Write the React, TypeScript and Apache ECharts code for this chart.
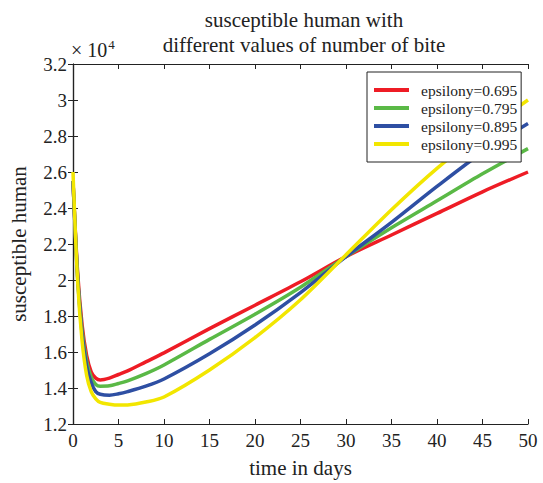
import React, { useEffect, useRef } from "react";
import * as echarts from "echarts";

const days = [0, 0.5, 1, 1.5, 2, 2.5, 3, 4, 5, 6, 8, 10, 15, 20, 25, 30, 35, 40, 45, 50];
const red = [25500, 20500, 17500, 15800, 14900, 14550, 14450, 14550, 14750, 14950, 15450, 15950, 17300, 18600, 19900, 21300, 22500, 23700, 24900, 26000];
const green = [25500, 20300, 17200, 15500, 14600, 14200, 14100, 14120, 14250, 14400, 14800, 15280, 16700, 18100, 19600, 21300, 22900, 24400, 25900, 27300];
const blue = [25500, 20200, 17000, 15200, 14300, 13800, 13650, 13600, 13680, 13800, 14100, 14500, 15900, 17500, 19300, 21300, 23200, 25200, 27100, 28700];
const yellow = [26000, 20000, 16600, 14700, 13800, 13400, 13200, 13100, 13050, 13060, 13220, 13500, 15000, 16800, 18900, 21400, 23900, 26200, 28200, 30000];
const seriesNames = ["epsilony=0.695", "epsilony=0.795", "epsilony=0.895", "epsilony=0.995"];
const colors = ["#ee1c25", "#5ab946", "#2e4fa3", "#f2e600"];

const FONT = "Liberation Serif";

export default function App() {
  const ref = useRef<HTMLDivElement>(null);
  useEffect(() => {
    const chart = echarts.init(ref.current!, null, { renderer: "svg" });
    const all = [red, green, blue, yellow];
    const axisCommon = {
      type: "value" as const,
      axisLine: { show: true, lineStyle: { color: "#222", width: 1.2 } },
      axisTick: { show: true, inside: true, length: 5, lineStyle: { color: "#222" } },
      splitLine: { show: false },
    };
    chart.setOption({
      animation: false,
      backgroundColor: "#fff",
      title: {
        text: "susceptible human with\ndifferent values of number of bite",
        left: 299,
        textAlign: "center",
        top: 2,
        textStyle: { fontFamily: FONT, fontSize: 21, fontWeight: "normal", color: "#222", lineHeight: 25 },
      },
      graphic: [
        {
          type: "text",
          left: 71,
          top: 38,
          style: {
            text: "{a|× 10}{b|4}",
            rich: {
              a: { fontFamily: FONT, fontSize: 20, fill: "#222", verticalAlign: "bottom" },
              b: { fontFamily: FONT, fontSize: 13, fill: "#222", verticalAlign: "top", padding: [0, 0, 9, 1] },
            },
          },
        },
      ],
      legend: {
        data: seriesNames,
        orient: "vertical",
        left: 367,
        top: 72,
        icon: "rect",
        itemWidth: 35,
        itemHeight: 4,
        itemGap: 2,
        padding: [10, 4, 10, 7],
        borderColor: "#222",
        borderWidth: 1,
        backgroundColor: "#fff",
        textStyle: { fontFamily: FONT, fontSize: 15.5, color: "#222", lineHeight: 14, padding: [0, 0, 0, 7] },
      },
      grid: { left: 69, right: 15, top: 64, bottom: 58 },
      xAxis: [
        {
          ...axisCommon,
          min: 0,
          max: 50,
          interval: 5,
          position: "bottom",
          name: "time in days",
          nameLocation: "middle",
          nameGap: 33,
          nameTextStyle: { fontFamily: FONT, fontSize: 21, color: "#222" },
          axisLabel: { fontFamily: FONT, fontSize: 19, color: "#222", margin: 7 },
        },
        {
          ...axisCommon,
          min: 0,
          max: 50,
          interval: 5,
          position: "top",
          axisLabel: { show: false },
        },
      ],
      yAxis: [
        {
          ...axisCommon,
          min: 12000,
          max: 32000,
          interval: 2000,
          position: "left",
          name: "susceptible human",
          nameLocation: "middle",
          nameGap: 44,
          nameTextStyle: { fontFamily: FONT, fontSize: 21, color: "#222" },
          axisLabel: {
            fontFamily: FONT,
            fontSize: 19,
            color: "#222",
            margin: 6,
            formatter: (v: number) => String(Math.round(v / 1000) / 10),
          },
        },
        {
          ...axisCommon,
          min: 12000,
          max: 32000,
          interval: 2000,
          position: "right",
          axisLabel: { show: false },
        },
      ],
      series: all.map((vals, i) => ({
        name: seriesNames[i],
        type: "line",
        data: days.map((d, j) => [d, vals[j]]),
        showSymbol: false,
        smooth: 0.3,
        clip: true,
        lineStyle: { color: colors[i], width: 3.5 },
        itemStyle: { color: colors[i] },
      })),
    });
    return () => chart.dispose();
  }, []);
  return <div ref={ref} style={{ width: 543, height: 483, position: "absolute", left: 0, top: 0 }} />;
}
